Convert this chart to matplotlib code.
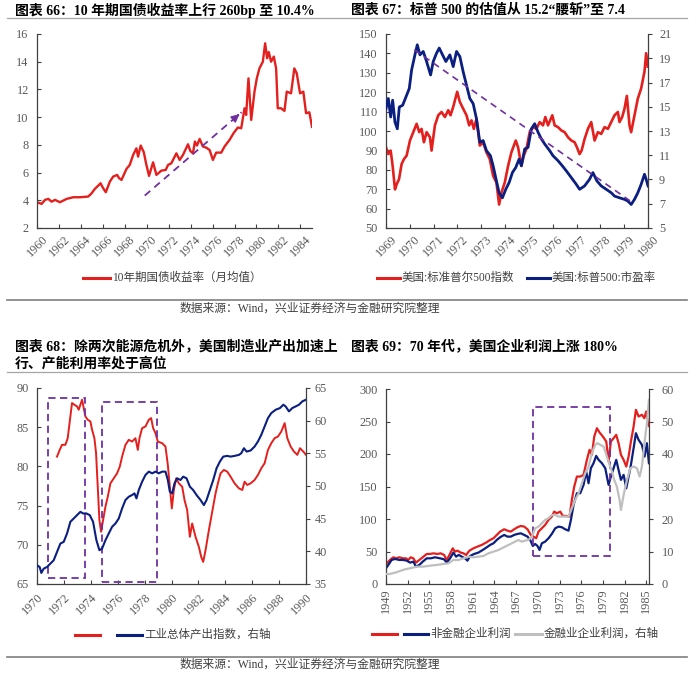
import matplotlib
matplotlib.use('Agg')
import matplotlib.pyplot as plt
from matplotlib.lines import Line2D
from matplotlib.patches import Rectangle

plt.rcParams['font.family'] = ['Liberation Serif', 'Noto Sans CJK SC']

# ---------------- data ----------------
# chart 66: 10y treasury yield, monthly average
yld_year = [1960.00, 1960.42, 1960.73, 1961.03, 1961.33, 1961.64, 1962.09, 1962.70, 1963.30, 1963.91,
            1964.67, 1964.97, 1965.27, 1965.58, 1965.79, 1966.03, 1966.27, 1966.64, 1966.94, 1967.30,
            1967.48, 1967.70, 1968.15, 1968.45, 1968.76, 1969.06, 1969.21, 1969.45, 1969.73, 1969.97,
            1970.21, 1970.58, 1970.88, 1971.33, 1971.73, 1971.94, 1972.24, 1972.70, 1973.00, 1973.30,
            1973.76, 1973.97, 1974.21, 1974.39, 1974.58, 1974.82, 1975.12, 1975.42, 1975.73, 1976.03,
            1976.33, 1976.79, 1977.09, 1977.55, 1977.91, 1978.30, 1978.61, 1978.91, 1979.06, 1979.27,
            1979.52, 1979.82, 1980.03, 1980.27, 1980.58, 1980.79, 1980.97, 1981.12, 1981.33, 1981.58,
            1981.79, 1981.94, 1982.24, 1982.55, 1982.76, 1983.15, 1983.45, 1983.67, 1983.97, 1984.27,
            1984.52, 1984.82, 1985.06]
yld_value = [3.86, 3.74, 4.03, 4.10, 3.90, 4.03, 3.86, 4.10, 4.22, 4.22,
             4.27, 4.50, 4.82, 5.06, 5.23, 4.87, 4.58, 5.35, 5.71, 5.83,
             5.60, 5.47, 6.26, 6.55, 7.27, 7.75, 7.15, 7.95, 7.47, 6.55,
             5.76, 6.74, 5.83, 6.14, 6.19, 6.55, 6.67, 7.39, 6.91, 7.27,
             8.04, 7.56, 7.39, 8.24, 7.95, 8.43, 7.88, 7.80, 7.63, 6.91,
             7.44, 7.44, 7.88, 8.36, 8.84, 9.25, 9.20, 10.64, 10.16, 12.80,
             9.80, 11.84, 12.80, 13.52, 14.00, 15.33, 14.25, 14.70, 14.00, 14.37,
             13.52, 10.64, 10.64, 10.45, 11.84, 11.72, 13.52, 13.16, 11.72, 11.84,
             10.28, 10.35, 9.30]
yld_arrow_start = (1969.82, 4.34)
yld_arrow_end = (1978.64, 10.35)

# chart 67: S&P 500 index (left) and P/E (right)
spx_year = [1969.000, 1969.098, 1969.196, 1969.279, 1969.377, 1969.447, 1969.545, 1969.656, 1969.754, 1969.866,
            1970.006, 1970.145, 1970.285, 1970.397, 1970.494, 1970.592, 1970.704, 1970.844, 1970.913, 1971.053,
            1971.193, 1971.332, 1971.472, 1971.612, 1971.709, 1971.821, 1971.989, 1972.101, 1972.240, 1972.380,
            1972.492, 1972.589, 1972.687, 1972.799, 1972.939, 1973.078, 1973.218, 1973.358, 1973.497, 1973.637,
            1973.749, 1973.846, 1973.986, 1974.126, 1974.265, 1974.447, 1974.545, 1974.684, 1974.782, 1974.894,
            1975.034, 1975.173, 1975.313, 1975.453, 1975.592, 1975.690, 1975.802, 1975.983, 1976.081, 1976.221,
            1976.360, 1976.500, 1976.640, 1976.779, 1976.919, 1977.017, 1977.128, 1977.212, 1977.338, 1977.478,
            1977.617, 1977.757, 1977.897, 1978.036, 1978.176, 1978.316, 1978.455, 1978.595, 1978.735, 1978.804,
            1978.916, 1979.014, 1979.112, 1979.223, 1979.293, 1979.433, 1979.573, 1979.712, 1979.852, 1979.922,
            1979.992]
spx_value = [91.6, 88.1, 89.9, 82.0, 69.9, 72.5, 75.1, 83.0, 85.5, 87.3,
             95.1, 99.4, 103.7, 99.4, 101.1, 94.2, 99.4, 96.8, 89.9, 102.9,
             108.1, 109.8, 107.2, 110.7, 108.1, 112.4, 120.2, 115.0, 111.5, 108.1,
             102.9, 105.5, 101.1, 106.3, 92.5, 94.2, 89.0, 85.5, 76.9, 73.4,
             62.1, 68.2, 73.4, 82.0, 89.0, 95.1, 91.6, 82.0, 87.3, 90.7,
             99.4, 102.0, 101.1, 104.6, 102.9, 107.2, 102.9, 108.1, 102.9, 102.0,
             100.3, 99.4, 96.8, 95.1, 94.2, 91.6, 88.1, 89.9, 95.9, 101.1,
             104.6, 95.1, 99.4, 98.5, 102.0, 101.1, 104.6, 108.1, 109.8, 104.6,
             107.2, 111.5, 118.1, 102.9, 99.4, 108.1, 116.7, 121.9, 130.6, 140.1,
             133.2]
pe_year = [1969.000, 1969.098, 1969.196, 1969.279, 1969.377, 1969.475, 1969.559, 1969.698, 1969.838, 1969.978,
           1970.075, 1970.215, 1970.313, 1970.425, 1970.564, 1970.704, 1970.872, 1970.983, 1971.123, 1971.235,
           1971.374, 1971.514, 1971.682, 1971.821, 1971.961, 1972.101, 1972.240, 1972.380, 1972.520, 1972.659,
           1972.799, 1972.939, 1973.078, 1973.218, 1973.385, 1973.497, 1973.637, 1973.749, 1973.888, 1974.028,
           1974.168, 1974.307, 1974.447, 1974.587, 1974.684, 1974.824, 1974.964, 1975.103, 1975.243, 1975.383,
           1975.522, 1975.662, 1975.872, 1976.011, 1976.221, 1976.402, 1976.570, 1976.779, 1976.989, 1977.128,
           1977.338, 1977.547, 1977.687, 1977.855, 1978.036, 1978.246, 1978.455, 1978.595, 1978.804, 1979.014,
           1979.154, 1979.293, 1979.433, 1979.573, 1979.712, 1979.852, 1979.922, 1980.000]
pe_value = [14.84, 15.68, 14.15, 15.54, 13.73, 13.18, 14.98, 15.12, 15.81, 16.51,
            18.03, 19.28, 20.11, 19.28, 19.56, 18.73, 17.62, 18.73, 19.42, 19.84,
            19.28, 18.73, 19.28, 18.31, 19.56, 19.14, 17.89, 16.78, 15.68, 15.26,
            14.01, 12.07, 12.21, 11.38, 10.96, 10.13, 8.88, 7.91, 7.49, 8.19,
            8.74, 9.57, 9.99, 10.68, 10.13, 11.52, 11.65, 13.18, 13.60, 12.90,
            12.35, 11.93, 11.38, 10.96, 10.55, 10.13, 9.71, 9.16, 8.60, 8.19,
            8.47, 9.02, 9.57, 8.88, 8.47, 8.19, 7.91, 7.63, 7.49, 7.36,
            7.22, 6.94, 7.36, 7.91, 8.60, 9.43, 9.02, 8.47]
pe_trend_year = [1970.19, 1979.36]
pe_trend_value = [19.7, 7.08]

# chart 68: capacity utilisation (left) and industrial production (right)
cap_year = [1971.489, 1971.687, 1971.861, 1972.109, 1972.283, 1972.481, 1972.605, 1972.779, 1972.978, 1973.102,
            1973.226, 1973.350, 1973.474, 1973.598, 1973.772, 1973.970, 1974.094, 1974.268, 1974.392, 1974.516,
            1974.640, 1974.764, 1974.913, 1975.087, 1975.261, 1975.459, 1975.707, 1975.955, 1976.154, 1976.328,
            1976.576, 1976.824, 1977.072, 1977.320, 1977.494, 1977.618, 1977.816, 1978.065, 1978.313, 1978.486,
            1978.635, 1978.809, 1978.983, 1979.305, 1979.553, 1979.727, 1979.876, 1980.025, 1980.174, 1980.347,
            1980.546, 1980.794, 1980.968, 1981.166, 1981.365, 1981.538, 1981.787, 1982.035, 1982.208, 1982.357,
            1982.531, 1982.779, 1983.027, 1983.275, 1983.449, 1983.648, 1983.896, 1984.144, 1984.392, 1984.690,
            1985.012, 1985.261, 1985.434, 1985.633, 1985.881, 1986.179, 1986.427, 1986.675, 1986.923, 1987.171,
            1987.419, 1987.667, 1987.916, 1988.164, 1988.412, 1988.610, 1988.859, 1989.107, 1989.355, 1989.553,
            1989.801, 1990.000]
cap_value = [81.25, 82.10, 82.75, 82.75, 83.60, 86.37, 88.08, 87.87, 87.65, 87.23,
             87.87, 88.50, 87.44, 86.37, 85.95, 85.73, 84.67, 83.60, 81.68, 77.41,
             73.15, 71.66, 73.15, 74.85, 76.13, 77.84, 78.48, 79.12, 79.97, 81.25,
             82.75, 83.39, 83.17, 83.60, 82.10, 83.60, 84.88, 85.09, 85.95, 86.16,
             84.88, 84.24, 83.17, 82.96, 82.53, 80.19, 77.41, 74.64, 76.99, 78.48,
             77.84, 77.41, 75.71, 74.43, 71.02, 72.72, 71.02, 69.74, 68.46, 67.82,
             69.31, 71.87, 74.21, 76.56, 77.84, 79.12, 79.55, 79.33, 78.69, 77.84,
             77.20, 76.99, 78.05, 77.63, 77.84, 78.27, 78.91, 79.76, 80.40, 82.10,
             82.96, 83.60, 83.81, 84.45, 85.52, 83.60, 82.53, 81.89, 81.47, 82.32,
             81.89, 81.47]
ip_year = [1970.000, 1970.199, 1970.323, 1970.496, 1970.744, 1970.993, 1971.241, 1971.489, 1971.737, 1971.985,
           1972.233, 1972.481, 1972.730, 1972.978, 1973.226, 1973.424, 1973.672, 1973.921, 1974.169, 1974.417,
           1974.640, 1974.839, 1975.087, 1975.335, 1975.583, 1975.831, 1976.079, 1976.328, 1976.576, 1976.824,
           1977.072, 1977.246, 1977.395, 1977.568, 1977.816, 1978.065, 1978.313, 1978.561, 1978.809, 1979.057,
           1979.305, 1979.553, 1979.727, 1979.876, 1980.050, 1980.223, 1980.422, 1980.670, 1980.868, 1981.117,
           1981.365, 1981.613, 1981.861, 1982.159, 1982.407, 1982.605, 1982.854, 1983.102, 1983.350, 1983.598,
           1983.846, 1984.144, 1984.392, 1984.690, 1985.012, 1985.186, 1985.385, 1985.583, 1985.881, 1986.179,
           1986.427, 1986.675, 1986.923, 1987.171, 1987.419, 1987.742, 1988.065, 1988.313, 1988.486, 1988.734,
           1988.983, 1989.231, 1989.479, 1989.727, 1990.000]
ip_value = [37.86, 37.60, 36.69, 37.35, 37.60, 38.12, 38.63, 39.91, 41.19, 41.45,
            42.73, 44.52, 45.03, 45.54, 46.05, 45.80, 45.80, 45.54, 44.52, 41.70,
            40.17, 40.42, 41.70, 42.73, 43.75, 44.26, 45.03, 46.57, 47.85, 48.36,
            48.62, 48.87, 48.10, 49.38, 50.66, 51.69, 52.20, 51.94, 52.20, 51.94,
            52.20, 52.20, 50.92, 49.13, 48.87, 50.41, 51.18, 50.92, 51.43, 51.18,
            49.90, 49.38, 48.62, 47.85, 47.08, 47.85, 49.38, 50.92, 52.71, 53.74,
            54.50, 54.61, 54.50, 54.61, 54.76, 55.02, 55.78, 55.27, 55.43, 56.04,
            56.81, 57.83, 59.11, 60.39, 61.16, 61.67, 61.93, 62.44, 62.18, 61.42,
            61.93, 62.18, 62.44, 62.95, 63.21]
cap_boxes = [(1970.79, 1973.60, 65.77, 88.72), (1974.81, 1978.93, 65.26, 88.17)]

# chart 69: corporate profits
prof_red_year = [1949.00, 1949.32, 1949.65, 1950.02, 1950.38, 1950.85, 1951.31, 1951.77, 1952.09, 1952.41,
                 1952.78, 1953.15, 1953.61, 1954.08, 1954.63, 1955.09, 1955.55, 1956.11, 1956.57, 1957.03,
                 1957.40, 1957.77, 1958.23, 1958.55, 1958.88, 1959.34, 1959.71, 1960.08, 1960.54, 1961.09,
                 1961.64, 1962.24, 1962.84, 1963.40, 1963.86, 1964.32, 1964.78, 1965.34, 1965.80, 1966.26,
                 1966.72, 1967.18, 1967.64, 1968.11, 1968.57, 1969.03, 1969.40, 1969.77, 1970.09, 1970.55,
                 1971.01, 1971.47, 1971.93, 1972.26, 1972.63, 1973.09, 1973.46, 1973.92, 1974.38, 1974.70,
                 1975.03, 1975.40, 1975.86, 1976.32, 1976.78, 1977.15, 1977.47, 1977.80, 1978.17, 1978.53,
                 1978.99, 1979.46, 1979.78, 1980.10, 1980.47, 1980.84, 1981.16, 1981.49, 1981.86, 1982.23,
                 1982.55, 1982.87, 1983.24, 1983.56, 1983.93, 1984.39, 1984.72, 1984.99, 1985.22, 1985.36]
prof_red_value = [30.8, 34.4, 38.0, 41.1, 39.5, 41.1, 39.5, 39.5, 37.0, 41.1,
                  39.5, 32.9, 37.0, 41.1, 46.2, 46.2, 47.2, 46.2, 47.2, 44.7,
                  37.0, 44.7, 54.9, 49.8, 51.3, 48.3, 47.2, 44.7, 51.3, 54.9,
                  57.5, 60.1, 63.7, 67.8, 70.3, 75.5, 80.6, 84.2, 82.1, 80.6,
                  84.2, 87.3, 89.3, 88.3, 84.2, 75.5, 72.9, 70.3, 80.6, 85.7,
                  90.9, 98.6, 103.7, 111.4, 108.8, 111.4, 104.7, 104.7, 103.7, 129.4,
                  149.9, 165.3, 165.3, 167.9, 191.0, 206.4, 198.7, 226.9, 239.7, 233.1,
                  226.9, 219.2, 188.4, 219.2, 224.3, 229.5, 216.6, 198.7, 191.0, 180.7,
                  196.1, 219.2, 242.3, 268.0, 257.7, 260.3, 255.1, 265.4, 247.4, 243.3]
prof_nonfin_year = [1949.00, 1949.32, 1949.78, 1950.25, 1950.85, 1951.40, 1951.86, 1952.32, 1952.78, 1953.15,
                    1953.61, 1954.08, 1954.63, 1955.18, 1955.78, 1956.48, 1957.03, 1957.40, 1957.86, 1958.32,
                    1958.69, 1959.06, 1959.48, 1959.94, 1960.26, 1960.63, 1961.18, 1961.78, 1962.38, 1962.94,
                    1963.40, 1963.86, 1964.32, 1964.78, 1965.34, 1965.80, 1966.26, 1966.72, 1967.18, 1967.64,
                    1968.11, 1968.57, 1968.94, 1969.30, 1969.63, 1969.95, 1970.23, 1970.55, 1971.01, 1971.47,
                    1971.93, 1972.40, 1972.86, 1973.32, 1973.78, 1974.24, 1974.57, 1974.94, 1975.40, 1975.86,
                    1976.32, 1976.69, 1977.01, 1977.33, 1977.70, 1978.07, 1978.40, 1978.86, 1979.32, 1979.78,
                    1980.10, 1980.47, 1980.84, 1981.16, 1981.49, 1981.86, 1982.23, 1982.55, 1982.87, 1983.24,
                    1983.56, 1983.93, 1984.39, 1984.76, 1985.08, 1985.36]
prof_nonfin_value = [24.1, 29.3, 37.0, 38.5, 37.0, 37.0, 35.9, 32.9, 34.4, 26.7,
                     29.3, 34.4, 39.5, 39.5, 41.1, 39.5, 38.0, 32.9, 39.5, 48.3,
                     42.1, 44.7, 42.1, 39.5, 35.9, 43.1, 46.2, 48.3, 52.4, 56.5,
                     60.1, 62.6, 67.8, 71.9, 75.5, 72.9, 72.9, 75.5, 77.0, 78.0,
                     75.5, 72.9, 67.8, 58.5, 61.6, 58.5, 52.4, 62.6, 65.2, 70.3,
                     77.0, 85.7, 88.3, 87.3, 84.2, 82.1, 98.6, 121.7, 139.6, 139.6,
                     152.5, 173.0, 155.0, 178.1, 185.8, 197.1, 191.0, 185.8, 178.1, 152.5,
                     165.3, 178.1, 191.0, 175.6, 160.2, 167.9, 147.3, 165.3, 183.3, 208.9,
                     232.0, 221.8, 214.1, 196.1, 216.6, 185.8]
prof_fin_year = [1949.00, 1949.55, 1950.25, 1950.94, 1951.63, 1952.32, 1953.25, 1954.17, 1955.09, 1956.01,
                 1956.94, 1957.63, 1958.32, 1959.01, 1959.71, 1960.40, 1961.09, 1961.78, 1962.48, 1963.17,
                 1963.86, 1964.55, 1965.01, 1965.47, 1965.94, 1966.40, 1966.86, 1967.32, 1967.78, 1968.24,
                 1968.70, 1969.17, 1969.63, 1970.09, 1970.55, 1971.01, 1971.47, 1971.93, 1972.40, 1972.86,
                 1973.32, 1973.78, 1974.24, 1974.70, 1975.17, 1975.63, 1976.09, 1976.55, 1977.01, 1977.47,
                 1977.93, 1978.26, 1978.63, 1979.09, 1979.55, 1979.92, 1980.24, 1980.56, 1980.93, 1981.30,
                 1981.49, 1981.86, 1982.32, 1982.78, 1983.24, 1983.70, 1984.07, 1984.39, 1984.85, 1985.08,
                 1985.36]
prof_fin_value = [3.08, 3.08, 3.49, 4.00, 4.52, 4.83, 5.34, 5.34, 5.65, 5.85,
                  6.16, 6.37, 7.39, 7.39, 7.90, 8.42, 8.21, 8.42, 8.62, 9.45,
                  9.96, 10.47, 10.99, 11.50, 12.01, 12.53, 13.04, 13.55, 13.04, 13.35,
                  13.55, 14.58, 17.15, 17.66, 18.69, 19.71, 20.23, 21.25, 21.25, 20.74,
                  20.74, 20.74, 20.74, 23.31, 25.87, 27.93, 31.00, 34.09, 36.14, 40.25,
                  42.81, 43.33, 42.81, 42.30, 39.22, 36.65, 34.60, 32.03, 29.98, 25.87,
                  22.79, 27.41, 32.03, 35.63, 36.14, 35.63, 33.06, 36.14, 45.38, 49.49,
                  56.67]
prof_box = (1969.26, 1980.01, 43.1, 271.6)

# ---------------- style ----------------
W, H = 700, 676
RED = '#E3201E'
NAVY = '#0B1F80'
GREY = '#BFBFBF'
PURPLE = '#7030A0'
LABEL = '#595959'
SPINE = '#404040'
TICK_FS = 8.8
TITLE_FS = 10
LEG_FS = 8.3

fig = plt.figure(figsize=(W / 100, H / 100), dpi=100)


def box(left, top, right, bottom):
    return [left / W, 1 - bottom / H, (right - left) / W, (bottom - top) / H]


def fx(px):
    return px / W


def fy(py):
    return 1 - py / H


def base_axes(rect, xlim, xticks, rot, ha, mode, xpad):
    ax = fig.add_axes(rect)
    ax.set_xlim(*xlim)
    ax.spines['top'].set_visible(False)
    ax.spines['right'].set_visible(False)
    for s in ('left', 'bottom'):
        ax.spines[s].set_color(SPINE)
        ax.spines[s].set_linewidth(0.9)
    ax.set_xticks(xticks)
    ax.set_xticklabels([str(t) for t in xticks], rotation=rot, ha=ha,
                       va='top', rotation_mode=mode)
    ax.tick_params(axis='x', direction='in', length=3, width=0.8, color=SPINE,
                   labelcolor=LABEL, labelsize=TICK_FS, pad=xpad)
    ax.tick_params(axis='y', direction='in', length=3, width=0.8, color=SPINE,
                   labelcolor=LABEL, labelsize=TICK_FS, pad=6)
    return ax


def right_axis(ax, ylim, yticks, pad):
    tw = ax.twinx()
    tw.set_ylim(*ylim)
    tw.set_yticks(yticks)
    tw.spines['top'].set_visible(False)
    tw.spines['right'].set_color(SPINE)
    tw.spines['right'].set_linewidth(0.9)
    tw.spines['left'].set_visible(False)
    tw.spines['bottom'].set_visible(False)
    tw.tick_params(axis='y', direction='out', length=3, width=0.8, color=SPINE,
                   labelcolor=LABEL, labelsize=TICK_FS, pad=pad)
    return tw


def legend_row(items, y):
    for x0, x1, color, label in items:
        fig.add_artist(Line2D([fx(x0), fx(x1)], [fy(y), fy(y)], color=color, lw=2.2,
                              transform=fig.transFigure))
        if label:
            fig.text(fx(x1 + 2), fy(y), label, fontsize=LEG_FS, color='#404040',
                     ha='left', va='center')


def hline(y, color, lw):
    fig.add_artist(Line2D([fx(7), fx(687)], [fy(y), fy(y)], color=color, lw=lw,
                          transform=fig.transFigure))


def dashed_box(ax, b):
    x0, x1, y0, y1 = b
    ax.add_patch(Rectangle((x0, y0), x1 - x0, y1 - y0, fill=False, ec=PURPLE,
                           lw=1.3, ls=(0, (4, 2.5)), clip_on=False, zorder=5))


# ---------------- chart 66 ----------------
ax1 = base_axes(box(37, 34, 312, 228), (1960, 1985.06), list(range(1960, 1985, 2)),
                45, 'center', 'default', 4)
ax1.set_ylim(2, 16)
ax1.set_yticks(range(2, 17, 2))
ax1.plot(yld_year, yld_value, color=RED, lw=1.7)
ax1.plot([yld_arrow_start[0], yld_arrow_end[0]], [yld_arrow_start[1], yld_arrow_end[1]],
         color=PURPLE, lw=1.3, ls=(0, (4, 3)))
head_from = (yld_arrow_end[0] - 0.06 * (yld_arrow_end[0] - yld_arrow_start[0]),
             yld_arrow_end[1] - 0.06 * (yld_arrow_end[1] - yld_arrow_start[1]))
ax1.annotate('', xy=yld_arrow_end, xytext=head_from,
             arrowprops=dict(arrowstyle='-|>', color=PURPLE, lw=1.3, mutation_scale=11))

# ---------------- chart 67 ----------------
ax2 = base_axes(box(386, 34, 648, 228), (1969, 1980), list(range(1969, 1981)),
                45, 'center', 'default', 4)
ax2.set_ylim(50, 150)
ax2.set_yticks(range(50, 151, 10))
ax2.plot(spx_year, spx_value, color=RED, lw=1.9)
ax2r = right_axis(ax2, (5, 21), list(range(5, 22, 2)), 5)
ax2r.plot(pe_year, pe_value, color=NAVY, lw=2.0)
ax2r.plot(pe_trend_year, pe_trend_value, color=PURPLE, lw=1.2, ls=(0, (4, 3)))

# ---------------- chart 68 ----------------
ax3 = base_axes(box(37, 388, 306, 584), (1970, 1990), list(range(1970, 1991, 2)),
                45, 'right', 'anchor', 5)
ax3.set_ylim(65, 90)
ax3.set_yticks(range(65, 91, 5))
ax3.plot(cap_year, cap_value, color=RED, lw=1.4)
ax3r = right_axis(ax3, (35, 65), list(range(35, 66, 5)), 3)
ax3r.plot(ip_year, ip_value, color=NAVY, lw=1.5)
for b in cap_boxes:
    dashed_box(ax3, b)

# ---------------- chart 69 ----------------
ax4 = base_axes(box(386, 389, 649, 584), (1949, 1985.37), list(range(1949, 1986, 3)),
                90, 'center', 'default', 3)
ax4.set_ylim(0, 300)
ax4.set_yticks(range(0, 301, 50))
ax4.plot(prof_red_year, prof_red_value, color=RED, lw=1.6)
ax4.plot(prof_nonfin_year, prof_nonfin_value, color=NAVY, lw=1.6)
ax4r = right_axis(ax4, (0, 60), list(range(0, 61, 10)), 6)
ax4r.plot(prof_fin_year, prof_fin_value, color=GREY, lw=1.6)
dashed_box(ax4, prof_box)

# ---------------- titles, rules, legends, sources ----------------
fig.text(fx(15), fy(10), '图表 66：10 年期国债收益率上行 260bp 至 10.4%',
         fontsize=TITLE_FS, fontweight='bold', ha='left', va='center')
fig.text(fx(351), fy(10), '图表 67：标普 500 的估值从 15.2“腰斩”至 7.4',
         fontsize=TITLE_FS, fontweight='bold', ha='left', va='center')
fig.text(fx(15), fy(346), '图表 68：除两次能源危机外，美国制造业产出加速上',
         fontsize=TITLE_FS, fontweight='bold', ha='left', va='center')
fig.text(fx(15), fy(364), '行、产能利用率处于高位',
         fontsize=TITLE_FS, fontweight='bold', ha='left', va='center')
fig.text(fx(351), fy(346), '图表 69：70 年代，美国企业利润上涨 180%',
         fontsize=TITLE_FS, fontweight='bold', ha='left', va='center')

hline(18, '#A6A6A6', 0.9)
hline(372, '#A6A6A6', 0.9)
hline(300, '#7F7F7F', 1.2)
hline(657, '#7F7F7F', 1.2)

legend_row([(83, 110, RED, '10年期国债收益率（月均值）')], 278)
legend_row([(377, 400, RED, '美国:标准普尔500指数'),
            (527, 550, NAVY, '美国:标普500:市盈率')], 278)
legend_row([(75, 100, RED, ''), (117, 142, NAVY, '工业总体产出指数，右轴')], 635)
legend_row([(372, 397, RED, ''), (404, 428, NAVY, '非金融企业利润'),
            (515, 542, GREY, '金融业企业利润，右轴')], 634)

source = '数据来源：Wind，兴业证券经济与金融研究院整理'
fig.text(fx(310), fy(309), source, fontsize=8.5, color='#404040', ha='center', va='center')
fig.text(fx(310), fy(665), source, fontsize=8.5, color='#404040', ha='center', va='center')

fig.savefig('out.png', dpi=100)
